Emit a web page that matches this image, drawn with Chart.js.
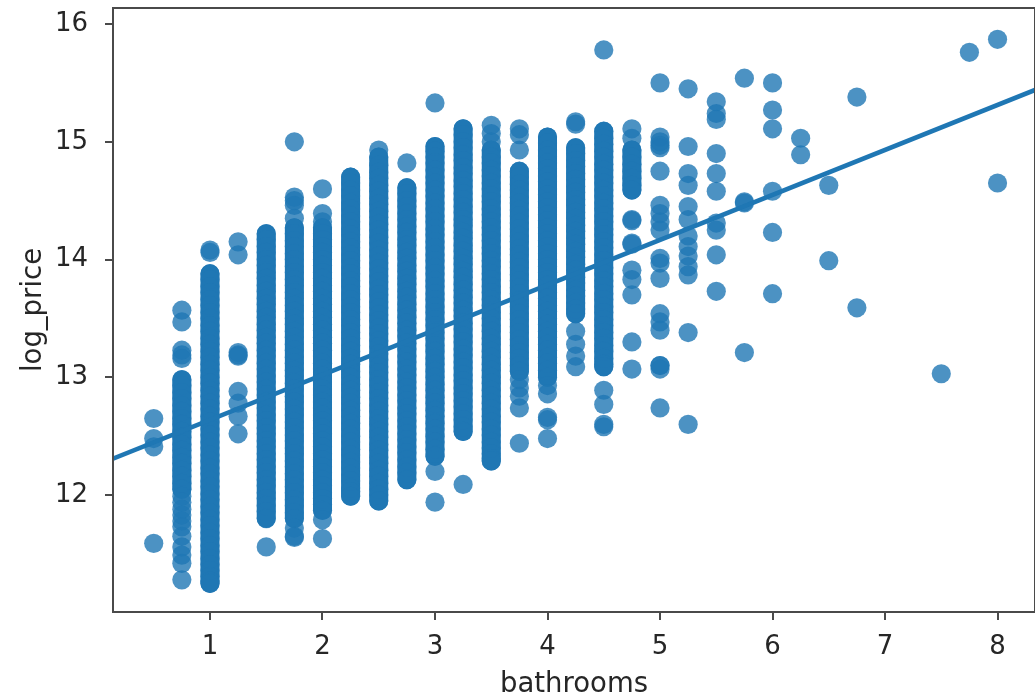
<!DOCTYPE html>
<html><head><meta charset="utf-8">
<style>html,body{margin:0;padding:0;background:#fff;overflow:hidden}canvas{display:block;filter:blur(0.6px)}</style>
<script src="https://cdn.jsdelivr.net/npm/chart.js@4"></script>
</head><body><canvas id="c" width="1035" height="698"></canvas>
<script>
const xLabel = 'bathrooms';
const yLabel = 'log_price';
const xTicks = [1,2,3,4,5,6,7,8];
const yTicks = [12,13,14,15,16];
const fitX = [0.138, 8.333];
const fitY = [12.31, 15.44];

const b050 = [12.65,12.48,12.41,11.59];
const b075 = [13.57,13.47,13.23,13.19,13.16,12.98,12.93,12.87,12.82,12.76,12.71,12.65,12.6,12.54,12.49,12.43,12.38,12.32,12.27,12.21,12.16,12.1,12.05,11.99,11.94,11.88,11.83,11.78,11.73,11.65,11.56,11.49,11.42,11.28];
const b100 = [14.08,14.06,13.88,13.83,13.77,13.72,13.66,13.61,13.55,13.5,13.44,13.39,13.33,13.28,13.22,13.17,13.11,13.06,13.0,12.95,12.89,12.84,12.78,12.73,12.67,12.62,12.56,12.51,12.45,12.4,12.34,12.29,12.23,12.18,12.12,12.07,12.01,11.96,11.9,11.85,11.79,11.74,11.68,11.63,11.57,11.52,11.46,11.41,11.36,11.31,11.27,11.25];
const b125 = [14.15,14.04,13.21,13.19,13.18,12.88,12.78,12.67,12.52];
const b150 = [14.22,14.17,14.11,14.06,14.0,13.95,13.89,13.84,13.78,13.73,13.67,13.62,13.56,13.51,13.45,13.4,13.34,13.29,13.23,13.18,13.12,13.07,13.01,12.96,12.9,12.85,12.79,12.74,12.68,12.63,12.57,12.52,12.46,12.41,12.35,12.3,12.24,12.19,12.13,12.08,12.02,11.97,11.91,11.86,11.8,11.56];
const b175 = [15.0,14.53,14.5,14.46,14.35,14.27,14.22,14.16,14.11,14.05,14.0,13.94,13.89,13.83,13.78,13.72,13.67,13.61,13.56,13.5,13.45,13.39,13.34,13.28,13.23,13.17,13.12,13.06,13.01,12.95,12.9,12.84,12.79,12.73,12.68,12.62,12.57,12.51,12.46,12.4,12.35,12.29,12.24,12.18,12.13,12.07,12.02,11.96,11.91,11.85,11.8,11.72,11.65,11.64];
const b200 = [14.6,14.39,14.32,14.27,14.22,14.17,14.11,14.06,14.0,13.95,13.89,13.84,13.78,13.73,13.67,13.62,13.56,13.51,13.45,13.4,13.34,13.29,13.23,13.18,13.12,13.07,13.01,12.96,12.9,12.85,12.79,12.74,12.68,12.63,12.57,12.52,12.46,12.41,12.35,12.3,12.24,12.19,12.13,12.08,12.02,11.97,11.92,11.87,11.79,11.63];
const b225 = [14.7,14.65,14.59,14.54,14.48,14.43,14.37,14.32,14.26,14.21,14.15,14.1,14.04,13.99,13.93,13.88,13.82,13.77,13.71,13.66,13.6,13.55,13.49,13.44,13.38,13.33,13.27,13.22,13.16,13.11,13.05,13.0,12.94,12.89,12.83,12.78,12.72,12.67,12.61,12.56,12.5,12.45,12.39,12.34,12.28,12.23,12.17,12.12,12.06,12.03,11.99];
const b250 = [14.93,14.87,14.8,14.74,14.69,14.63,14.58,14.52,14.47,14.41,14.36,14.3,14.25,14.19,14.14,14.08,14.03,13.97,13.92,13.86,13.81,13.75,13.7,13.64,13.59,13.53,13.48,13.42,13.37,13.31,13.26,13.2,13.15,13.09,13.04,12.98,12.93,12.87,12.82,12.76,12.71,12.65,12.6,12.54,12.49,12.43,12.38,12.32,12.27,12.21,12.16,12.1,12.05,12.0,11.95];
const b275 = [14.82,14.61,14.56,14.5,14.45,14.39,14.34,14.28,14.23,14.17,14.12,14.06,14.01,13.95,13.9,13.84,13.79,13.73,13.68,13.62,13.57,13.51,13.46,13.4,13.35,13.29,13.24,13.18,13.13,13.07,13.02,12.96,12.91,12.85,12.8,12.74,12.69,12.63,12.58,12.52,12.47,12.41,12.36,12.3,12.24,12.19,12.13];
const b300 = [15.33,14.96,14.92,14.87,14.82,14.76,14.7,14.65,14.59,14.54,14.48,14.43,14.37,14.32,14.26,14.21,14.15,14.1,14.04,13.99,13.93,13.88,13.82,13.77,13.71,13.66,13.6,13.55,13.49,13.44,13.38,13.33,13.27,13.22,13.16,13.11,13.05,13.0,12.94,12.89,12.83,12.78,12.72,12.67,12.61,12.56,12.5,12.45,12.39,12.33,12.2,11.94];
const b325 = [15.11,15.06,15.0,14.95,14.89,14.84,14.78,14.73,14.67,14.62,14.56,14.51,14.45,14.4,14.34,14.29,14.23,14.18,14.12,14.07,14.01,13.96,13.9,13.85,13.79,13.74,13.68,13.63,13.57,13.52,13.46,13.41,13.35,13.3,13.24,13.19,13.13,13.08,13.02,12.97,12.91,12.86,12.8,12.75,12.69,12.64,12.58,12.54,12.09];
const b350 = [15.14,15.07,15.0,14.93,14.87,14.82,14.76,14.71,14.65,14.6,14.54,14.49,14.43,14.38,14.32,14.27,14.21,14.16,14.1,14.05,13.99,13.94,13.88,13.83,13.77,13.72,13.66,13.61,13.55,13.5,13.44,13.39,13.33,13.28,13.22,13.17,13.11,13.06,13.0,12.95,12.89,12.84,12.78,12.73,12.67,12.62,12.56,12.51,12.45,12.4,12.35,12.31,12.29];
const b375 = [15.11,15.06,14.93,14.75,14.7,14.64,14.59,14.53,14.48,14.42,14.37,14.31,14.26,14.2,14.15,14.09,14.04,13.98,13.93,13.87,13.82,13.76,13.71,13.65,13.6,13.54,13.49,13.43,13.38,13.32,13.27,13.21,13.16,13.1,13.05,12.98,12.91,12.84,12.74,12.44];
const b400 = [15.04,14.99,14.93,14.88,14.82,14.77,14.71,14.66,14.6,14.55,14.49,14.44,14.38,14.33,14.27,14.22,14.16,14.11,14.05,14.0,13.94,13.89,13.83,13.78,13.72,13.67,13.61,13.56,13.5,13.45,13.39,13.34,13.28,13.23,13.17,13.12,13.06,13.0,12.93,12.86,12.66,12.64,12.48];
const b425 = [15.17,15.15,14.95,14.9,14.84,14.79,14.73,14.68,14.62,14.57,14.51,14.46,14.4,14.35,14.29,14.24,14.18,14.13,14.07,14.02,13.96,13.91,13.85,13.8,13.74,13.69,13.63,13.58,13.54,13.39,13.28,13.18,13.09];
const b450 = [15.78,15.09,15.03,14.98,14.92,14.87,14.81,14.76,14.7,14.65,14.59,14.54,14.48,14.43,14.37,14.32,14.26,14.21,14.15,14.1,14.04,13.99,13.93,13.88,13.82,13.77,13.71,13.66,13.6,13.55,13.49,13.44,13.38,13.33,13.27,13.22,13.16,13.11,13.09,12.89,12.77,12.6,12.58];
const b475 = [15.11,15.03,14.93,14.87,14.81,14.75,14.69,14.63,14.59,14.34,14.33,14.14,14.13,13.91,13.83,13.7,13.3,13.07];
const b500 = [15.5,15.04,15.0,14.97,14.95,14.75,14.46,14.39,14.32,14.25,14.01,13.97,13.84,13.54,13.47,13.4,13.1,13.1,13.07,12.74];
const b525 = [15.45,14.96,14.73,14.63,14.45,14.34,14.2,14.11,14.03,13.94,13.87,13.38,12.6];
const b550 = [15.34,15.24,15.19,14.9,14.73,14.58,14.31,14.25,14.04,13.73];
const b575 = [15.54,14.49,14.48,13.21];
const b600 = [15.5,15.27,15.11,14.58,14.23,13.71];
const b625 = [15.03,14.89];
const b650 = [14.63,13.99];
const b675 = [15.38,13.59];
const b750 = [13.03];
const b775 = [15.76];
const b800 = [15.87,14.65];

const columns = [[0.5,b050],[0.75,b075],[1,b100],[1.25,b125],[1.5,b150],[1.75,b175],[2,b200],[2.25,b225],[2.5,b250],[2.75,b275],[3,b300],[3.25,b325],[3.5,b350],[3.75,b375],[4,b400],[4.25,b425],[4.5,b450],[4.75,b475],[5,b500],[5.25,b525],[5.5,b550],[5.75,b575],[6,b600],[6.25,b625],[6.5,b650],[6.75,b675],[7.5,b750],[7.75,b775],[8,b800]];
const points = columns.flatMap(([x, ys]) => ys.map(y => ({x, y})));

/* solid stretches where the points overlap completely: bathrooms, highest value, lowest value */
const solidX = [0.75,1,1.5,1.75,2,2.25,2.5,2.75,3,3.25,3.5,3.75,4,4.25,4.5,4.75];
const solidTop = [12.98,13.88,14.22,14.27,14.27,14.7,14.87,14.61,14.96,15.11,14.93,14.75,15.04,14.95,15.09,14.93];
const solidBottom = [12.05,11.25,11.8,11.8,11.87,11.99,11.95,12.13,12.33,12.54,12.29,13.05,13.0,13.54,13.09,14.59];
const solidRuns = solidX.flatMap((x,i)=>[{x,y:solidTop[i]},{x,y:solidBottom[i]},{x,y:null}]);

const ink = '#4a4a4a', txt = '#262626', font = 'DejaVu Sans';
const tickSize = 26, titleSize = 27.5;
const frame = {id:'frame', afterDraw(c){const a=c.chartArea,g=c.ctx;g.save();g.strokeStyle=ink;g.lineWidth=2;g.strokeRect(a.left,a.top,a.width,a.height);g.restore();}};
new Chart(document.getElementById('c'), {
  type:'scatter',
  data:{datasets:[
    {type:'line',data:fitX.map((x,i)=>({x,y:fitY[i]})),borderColor:'#1f77b4',borderWidth:4.5,pointRadius:0,order:1},
    {data:points,backgroundColor:'rgba(31,119,180,0.8)',borderWidth:0,pointRadius:9.6,order:2},
    {type:'line',data:solidRuns,borderColor:'#1f77b4',borderWidth:19,borderCapStyle:'round',pointRadius:0,spanGaps:false,order:3}
  ]},
  options:{
    responsive:false,animation:false,devicePixelRatio:1,
    layout:{autoPadding:false,padding:{top:8,right:0,left:0,bottom:0}},
    plugins:{legend:{display:false},tooltip:{enabled:false}},
    scales:{
      x:{type:'linear',min:fitX[0],max:fitX[1],
        afterBuildTicks(s){s.ticks=xTicks.map(v=>({value:v}));},
        afterFit(s){s.height=86;s.paddingLeft=0;s.paddingRight=0;},
        grid:{drawOnChartArea:false,tickLength:8,color:ink,lineWidth:2},border:{color:ink,width:2},
        ticks:{font:{family:font,size:tickSize},color:txt,padding:12,maxRotation:0,autoSkip:false,callback:v=>String(v)},
        title:{display:true,text:xLabel,font:{family:font,size:titleSize},color:txt,padding:{top:0,bottom:-3}}},
      y:{type:'linear',min:11.007,max:16.136,
        afterBuildTicks(s){s.ticks=yTicks.map(v=>({value:v}));},
        afterFit(s){s.width=113;s.paddingTop=0;s.paddingBottom=0;},
        grid:{drawOnChartArea:false,tickLength:8,color:ink,lineWidth:2},border:{color:ink,width:2},
        ticks:{font:{family:font,size:tickSize},color:txt,padding:17,autoSkip:false,callback:v=>String(v)},
        title:{display:true,text:yLabel,font:{family:font,size:titleSize},color:txt,padding:{top:17,bottom:0}}}
    }
  },
  plugins:[frame]
});
</script></body></html>
